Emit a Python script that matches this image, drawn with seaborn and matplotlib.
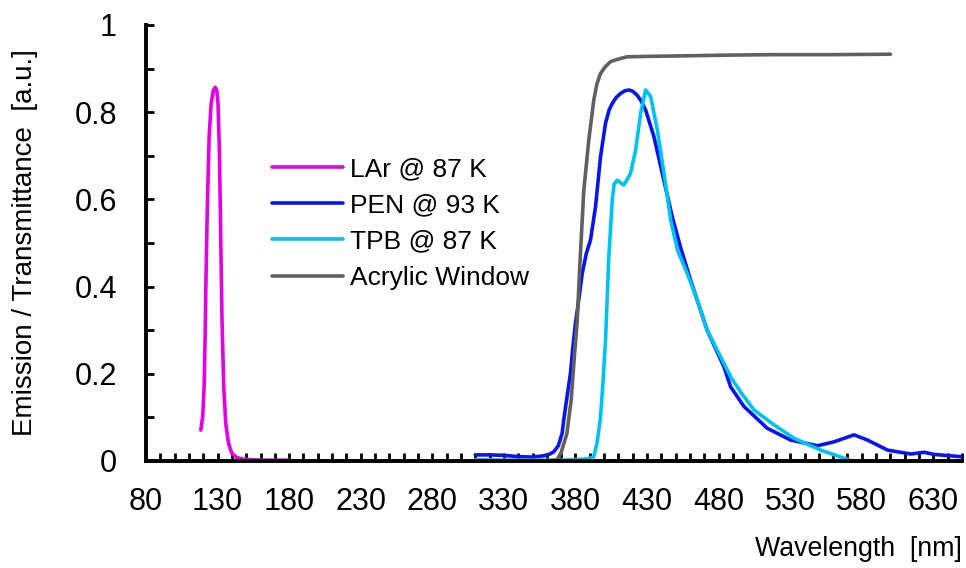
import numpy as np
import pandas as pd
import matplotlib
matplotlib.use("Agg")
import matplotlib.pyplot as plt
from matplotlib.ticker import MultipleLocator
from matplotlib.lines import Line2D
import seaborn as sns

# ---- data ----
lar_x = [118.3, 119.6, 120.6, 121.3, 122.0, 122.9, 124.1, 125.5, 127.1, 128.3, 129.4, 130.3,
         131.3, 132.2, 133.1, 134.3, 135.7, 137.6, 139.9, 143.4, 148.0, 160.0, 180.0]
lar_y = [0.071, 0.102, 0.17, 0.285, 0.438, 0.591, 0.744, 0.82, 0.851, 0.857, 0.851, 0.82,
         0.706, 0.514, 0.323, 0.17, 0.086, 0.041, 0.018, 0.008, 0.004, 0.002, 0.002]

pen_x = [310, 320, 330, 340, 350, 358, 362, 364.8, 368, 370.7, 371.8, 374, 376.5, 378, 380,
         382.5, 384.7, 387.5, 390.5, 394, 397.5, 401, 403.5, 405.7, 408.5, 411.5, 414.5,
         417.3, 420, 423.1, 426, 429, 434.8, 440.6, 447.6, 453.4, 460.4, 472, 483.7, 488.4,
         497.7, 514, 530.3, 549, 560.6, 574.6, 584, 598, 614.3, 623.6, 630.6, 649]
pen_y = [0.014, 0.014, 0.013, 0.01, 0.009, 0.012, 0.016, 0.021, 0.035, 0.064, 0.094, 0.145,
         0.201, 0.255, 0.316, 0.375, 0.43, 0.475, 0.507, 0.583, 0.698, 0.775, 0.805, 0.82,
         0.834, 0.843, 0.849, 0.851, 0.848, 0.839, 0.825, 0.805, 0.744, 0.66, 0.56, 0.49,
         0.415, 0.30, 0.216, 0.17, 0.125, 0.075, 0.048, 0.035, 0.044, 0.06, 0.048, 0.025,
         0.016, 0.02, 0.015, 0.01]

tpb_x = [310, 340, 370, 385, 390, 392.8, 395, 397.5, 399, 401, 403.3, 405.7, 407, 409.2,
         411.5, 413.8, 416, 418.5, 422, 425.5, 429, 432.5, 437.2, 441.8, 446.5, 451.2, 458.1,
         465.1, 472, 483.7, 488.4, 496, 504.7, 518.7, 532.7, 551.3, 572.3]
tpb_y = [0.003, 0.002, 0.002, 0.004, 0.006, 0.01, 0.04, 0.1, 0.17, 0.278, 0.469, 0.599,
         0.635, 0.644, 0.638, 0.633, 0.645, 0.66, 0.713, 0.797, 0.851, 0.836, 0.759, 0.66,
         0.553, 0.484, 0.43, 0.369, 0.30, 0.224, 0.193, 0.155, 0.117, 0.083, 0.052, 0.025,
         0.001]

acr_x = [310, 340, 360, 367, 370, 374, 377, 379, 381.2, 383, 385.8, 389.3, 392.8, 395,
         397.5, 401, 404.5, 410, 416, 430, 450, 488, 520, 560, 600]
acr_y = [0.0, 0.0, 0.0, 0.002, 0.02, 0.063, 0.14, 0.23, 0.32, 0.446, 0.62, 0.736, 0.828,
         0.865, 0.889, 0.905, 0.916, 0.922, 0.927, 0.928, 0.929, 0.931, 0.932, 0.932, 0.933]

series_names = ["LAr @ 87 K", "PEN @ 93 K", "TPB @ 87 K", "Acrylic Window"]
series_colors = ["#E600E6", "#0A14F0", "#00C4F0", "#606060"]

x_ticks = [80, 130, 180, 230, 280, 330, 380, 430, 480, 530, 580, 630]
y_ticks = [0, 0.2, 0.4, 0.6, 0.8, 1]
y_tick_labels = ["0", "0.2", "0.4", "0.6", "0.8", "1"]

# ---- long-form table ----
frames = []
for name, xs, ys in zip(series_names, [lar_x, pen_x, tpb_x, acr_x], [lar_y, pen_y, tpb_y, acr_y]):
    frames.append(pd.DataFrame({"wavelength": xs, "value": ys, "series": name}))
df = pd.concat(frames, ignore_index=True)

sns.set_theme(style="white")
plt.rcParams["font.family"] = ["Liberation Sans", "DejaVu Sans"]

fig = plt.figure(figsize=(9.66, 5.68), dpi=100)
W, H = 966, 568
ax = fig.add_axes([146 / W, 1 - 461 / H, (962 - 146) / W, (461 - 25) / H])

sns.lineplot(data=df, x="wavelength", y="value", hue="series", hue_order=series_names,
             palette=dict(zip(series_names, series_colors)), estimator=None, sort=False,
             linewidth=2.6, ax=ax, legend=False)

ax.set_xlim(80, 650)
ax.set_ylim(0, 1)
ax.set_xticks(x_ticks)
ax.set_xticklabels([str(t) for t in x_ticks])
ax.set_yticks(y_ticks)
ax.set_yticklabels(y_tick_labels)
ax.xaxis.set_minor_locator(MultipleLocator(10))
ax.yaxis.set_minor_locator(MultipleLocator(0.1))

for s in ["top", "right"]:
    ax.spines[s].set_visible(False)
for s in ["left", "bottom"]:
    ax.spines[s].set_linewidth(2.8)
    ax.spines[s].set_color("black")

ax.tick_params(axis="both", which="both", direction="in", length=6, width=2.0,
               color="black", labelsize=22, labelcolor="black",
               bottom=True, left=True, top=False, right=False)
ax.tick_params(axis="x", which="major", pad=19)
ax.tick_params(axis="y", which="major", pad=21)

ax.set_xlabel("")
ax.set_ylabel("Emission / Transmittance  [a.u.]", fontsize=20, color="black", labelpad=26)
fig.text(962 / W, 1 - 549 / H, "Wavelength  [nm]", ha="right", va="center",
         fontsize=19.3, color="black")

handles = [Line2D([0], [0], color=c, lw=2.6) for c in series_colors]
leg = ax.legend(handles, series_names, loc="center left",
                bbox_to_anchor=(272 / W, 1 - 223.5 / H), bbox_transform=fig.transFigure,
                frameon=False, fontsize=19, handlelength=2.69, handletextpad=0.27,
                labelspacing=0.47, borderpad=0, borderaxespad=0)
for t in leg.get_texts():
    t.set_color("black")

fig.savefig("out.png", dpi=100)
